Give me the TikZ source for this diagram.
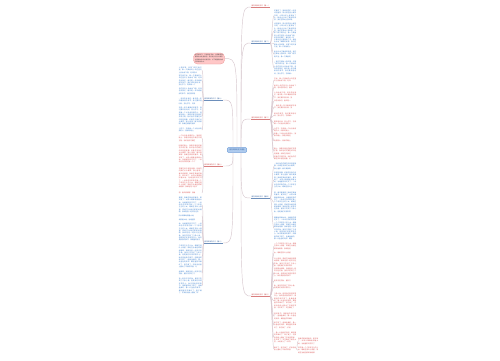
\documentclass[tikz,border=0pt]{standalone}
\usepackage{fontspec}
\setmainfont{Noto Sans CJK SC}
\usepackage{xstring}
\XeTeXlinebreaklocale "zh"
\XeTeXlinebreakskip=0pt plus 1pt
\XeTeXinterchartokenstate=1
\XeTeXinterchartoks 1 1 {\hskip 0pt plus 0.8pt\relax}
\XeTeXinterchartoks 3 1 {\hskip 0pt plus 0.8pt\relax}
\XeTeXinterchartoks 1 2 {\hskip 0pt plus 0.8pt\relax}
\XeTeXinterchartoks 3 2 {\hskip 0pt plus 0.8pt\relax}
\emergencystretch=4pt
\definecolor{bt}{HTML}{3F82D0}
\definecolor{rt}{HTML}{DC5A5A}
\definecolor{bl}{HTML}{2F5F9E}
\definecolor{rl}{HTML}{C94848}
\definecolor{cn}{HTML}{D8C8CF}
\definecolor{cfill}{HTML}{AFCBEE}
\definecolor{cdraw}{HTML}{6F9DD8}
\def\ZWa{春天来了，校园里的花都开了，我和同学们一起去公园里玩。阳光照在身上暖洋洋的，小草从泥土里探出了头，柳树也长出了嫩绿的新芽。我们在草地上放风筝，风筝飞得又高又远，像一只美丽的小鸟在蓝天上自由地飞翔。老师告诉我们，春天是一年中最美好的季节，我们要珍惜时间，努力学习，将来做一个对社会有用的人。回家的路上，我看见路边的桃花开得正艳，粉红色的花瓣在风中轻轻摇摆，好像在向我们点头微笑。我心里想，春天真美啊！我爱这美丽的春天。夏天到了，太阳火辣辣地照着大地，池塘里的荷花开了，一朵朵洁白的荷花像一个个亭亭玉立的少女。蜻蜓在荷叶上停留，青蛙在池塘边呱呱地唱歌。我和爸爸一起去河边钓鱼，虽然只钓到了几条小鱼，但是我们玩得非常开心。秋天是收获的季节，田野里的稻子熟了，金黄金黄的，像一片金色的海洋。果园里的苹果红了，梨子黄了，农民伯伯脸上露出了丰收的笑容。冬天来了，天空飘起了鹅毛大雪，大地穿上了一件白色的棉衣。我们在雪地里堆雪人、打雪仗，笑声传得很远很远。一年四季各有各的美，我爱每一个季节。}
\edef\ZW{\ZWa\ZWa}
\tikzset{
  blk/.style={inner sep=0pt, font=\fontsize{1.65}{2.3}\selectfont, text width=22pt, align=justify},
  conn/.style={draw=cn, line width=0.45pt},
  lab/.style={inner sep=0.3pt, font=\fontsize{1.65}{2}\selectfont},
  centernode/.style={fill=cfill, draw=cdraw, line width=0.35pt, rounded corners=1pt,
    inner xsep=2pt, inner ysep=1.6pt, font=\fontsize{1.7}{2}\selectfont, text=bl},
  pinknode/.style={fill=red!22!white, draw=rt!65, line width=0.3pt, rounded corners=4pt,
    inner sep=1.5pt, text width=28pt, align=left, font=\fontsize{1.5}{2.2}\selectfont, text=black!75}
}
% right block: name, parent, colour, ytop, lines
\newcommand\RB[5]{%
  \node[blk,text=#3,anchor=north west] (#1) at (274,#4) {\StrMid{\ZW}{#4}{\the\numexpr#4+13*#5-4\relax}};
  \draw[conn] (#2.south east) .. controls +(1.8,0) and +(-1.8,0) .. (#1.west);}
% left block
\newcommand\LB[5]{%
  \node[blk,text width=23pt,text=#3,anchor=north east] (#1) at (202,#4) {\StrMid{\ZW}{#4}{\the\numexpr#4+13*#5-4\relax}};
  \draw[conn] (#2.south west) .. controls +(-1.8,0) and +(1.8,0) .. (#1.east);}
% right label: name, colour, y, start coordinate, text
\newcommand\RL[5]{%
  \node[lab,text=#2,anchor=south west] (#1) at (251,#3) {#5};
  \draw[#2!70,line width=0.35pt] (#1.south west) -- (#1.south east);
  \draw[conn] (#4) .. controls (#4 |- #1.south west) .. (#1.south west);}
\newcommand\LL[5]{%
  \node[lab,text=#2,anchor=south east] (#1) at (223,#3) {#5};
  \draw[#2!70,line width=0.35pt] (#1.south west) -- (#1.south east);
  \draw[conn] (#4) .. controls (#4 |- #1.south east) .. (#1.south east);}
\begin{document}
\begin{tikzpicture}[x=1pt,y=-1pt]
\fill[white] (0,0) rectangle (500,360);
\useasboundingbox (0,0) rectangle (500,360);

\node[centernode] (c) at (237,150) {描写四季的作文精选};
\coordinate (rn) at ([xshift=4pt]c.north);
\coordinate (rs) at ([xshift=4pt]c.south);
\coordinate (ln) at ([xshift=-4pt]c.north);
\coordinate (ls) at ([xshift=-4pt]c.south);

% pink intro node
\node[pinknode] (p) at (209,58.5) {在日常学习、工作和生活中，大家都经常看到作文的身影吧，作文是人们以书面形式表情达意的言语活动。以下是整理的描写四季的作文。};
\draw[conn] (c.north) .. controls (c.north |- p.east) .. (p.east);

% right labels
\RL{r1}{rl}{7}{rn}{描写四季的作文（篇一）}
\RL{r2}{bl}{43}{rn}{描写四季的作文（篇二）}
\RL{r3}{rl}{119}{rn}{描写四季的作文（篇三）}
\RL{r4}{bl}{198}{rs}{描写四季的作文（篇四）}
\RL{r5}{rl}{296}{rs}{描写四季的作文（篇五）}
% left labels
\LL{l1}{bl}{100}{ln}{描写四季的作文（篇六）}
\LL{l2}{rl}{166}{ls}{描写四季的作文（篇七）}
\LL{l3}{bl}{243}{ls}{描写四季的作文（篇八）}

% R2 blocks
\RB{a1}{r2}{bt}{10}{5}
\RB{a2}{r2}{bt}{23}{7}
\RB{a3}{r2}{bt}{39}{4}
\RB{a4}{r2}{bt}{51}{3}
\RB{a5}{r2}{bt}{61}{6}
% R3 blocks
\RB{b1}{r3}{rt}{78}{2}
\RB{b2}{r3}{rt}{85}{2}
\RB{b3}{r3}{rt}{92}{3}
\RB{b4}{r3}{rt}{100}{1}
\RB{b5}{r3}{rt}{105}{2}
\RB{b6}{r3}{rt}{113}{2}
\RB{b7}{r3}{rt}{121}{2}
\RB{b8}{r3}{rt}{128}{2}
\RB{b9}{r3}{rt}{133}{2}
\RB{b10}{r3}{rt}{140}{1}
\RB{b11}{r3}{rt}{148}{3}
\RB{b12}{r3}{rt}{156}{2}
% R4 blocks
\RB{d1}{r4}{bt}{163}{3}
\RB{d2}{r4}{bt}{172}{7}
\RB{d3}{r4}{bt}{192}{9}
\RB{d4}{r4}{bt}{217}{10}
% R5 blocks
\RB{e1}{r5}{rt}{243}{3}
\RB{e2}{r5}{rt}{252}{1}
\RB{e3}{r5}{rt}{258}{4}
\RB{e4}{r5}{rt}{268}{4}
\RB{e5}{r5}{rt}{280}{1}
\RB{e6}{r5}{rt}{285}{2}
\RB{e7}{r5}{rt}{293}{7}
\RB{e8}{r5}{rt}{313}{3}
\RB{e9}{r5}{rt}{322}{3}
\RB{e10}{r5}{rt}{332}{5}
\RB{e11}{r5}{rt}{347}{2}
\node[blk,text width=20pt,text=rt,anchor=north west] (f1) at (298,338) {\StrMid{\ZW}{200}{233}};
\node[blk,text width=20pt,text=rt,anchor=north west] (f2) at (298,347) {\StrMid{\ZW}{240}{273}};
\draw[conn] (e11.east) .. controls +(1,0) and +(-1,0) .. (f1.west);
\draw[conn] (e11.east) .. controls +(1,0) and +(-1,0) .. (f2.west);

% L1 blocks
\LB{g1}{l1}{bt}{67}{3}
\LB{g2}{l1}{bt}{75}{5}
\LB{g3}{l1}{bt}{88}{3}
\LB{g4}{l1}{bt}{98}{3}
\LB{g5}{l1}{bt}{107}{8}
\LB{g6}{l1}{bt}{128}{2}
% L2 blocks
\LB{h1}{l2}{rt}{135}{3}
\LB{h2}{l2}{rt}{145}{8}
\LB{h3}{l2}{rt}{168}{9}
\LB{h4}{l2}{rt}{192}{1}
% L3 blocks
\LB{k1}{l3}{bt}{197}{7}
\LB{k2}{l3}{bt}{215}{1}
\LB{k3}{l3}{bt}{219}{1}
\LB{k4}{l3}{bt}{223}{8}
\LB{k5}{l3}{bt}{245}{10}
\LB{k6}{l3}{bt}{271}{2}
\LB{k7}{l3}{bt}{278}{7}
\end{tikzpicture}
\end{document}
